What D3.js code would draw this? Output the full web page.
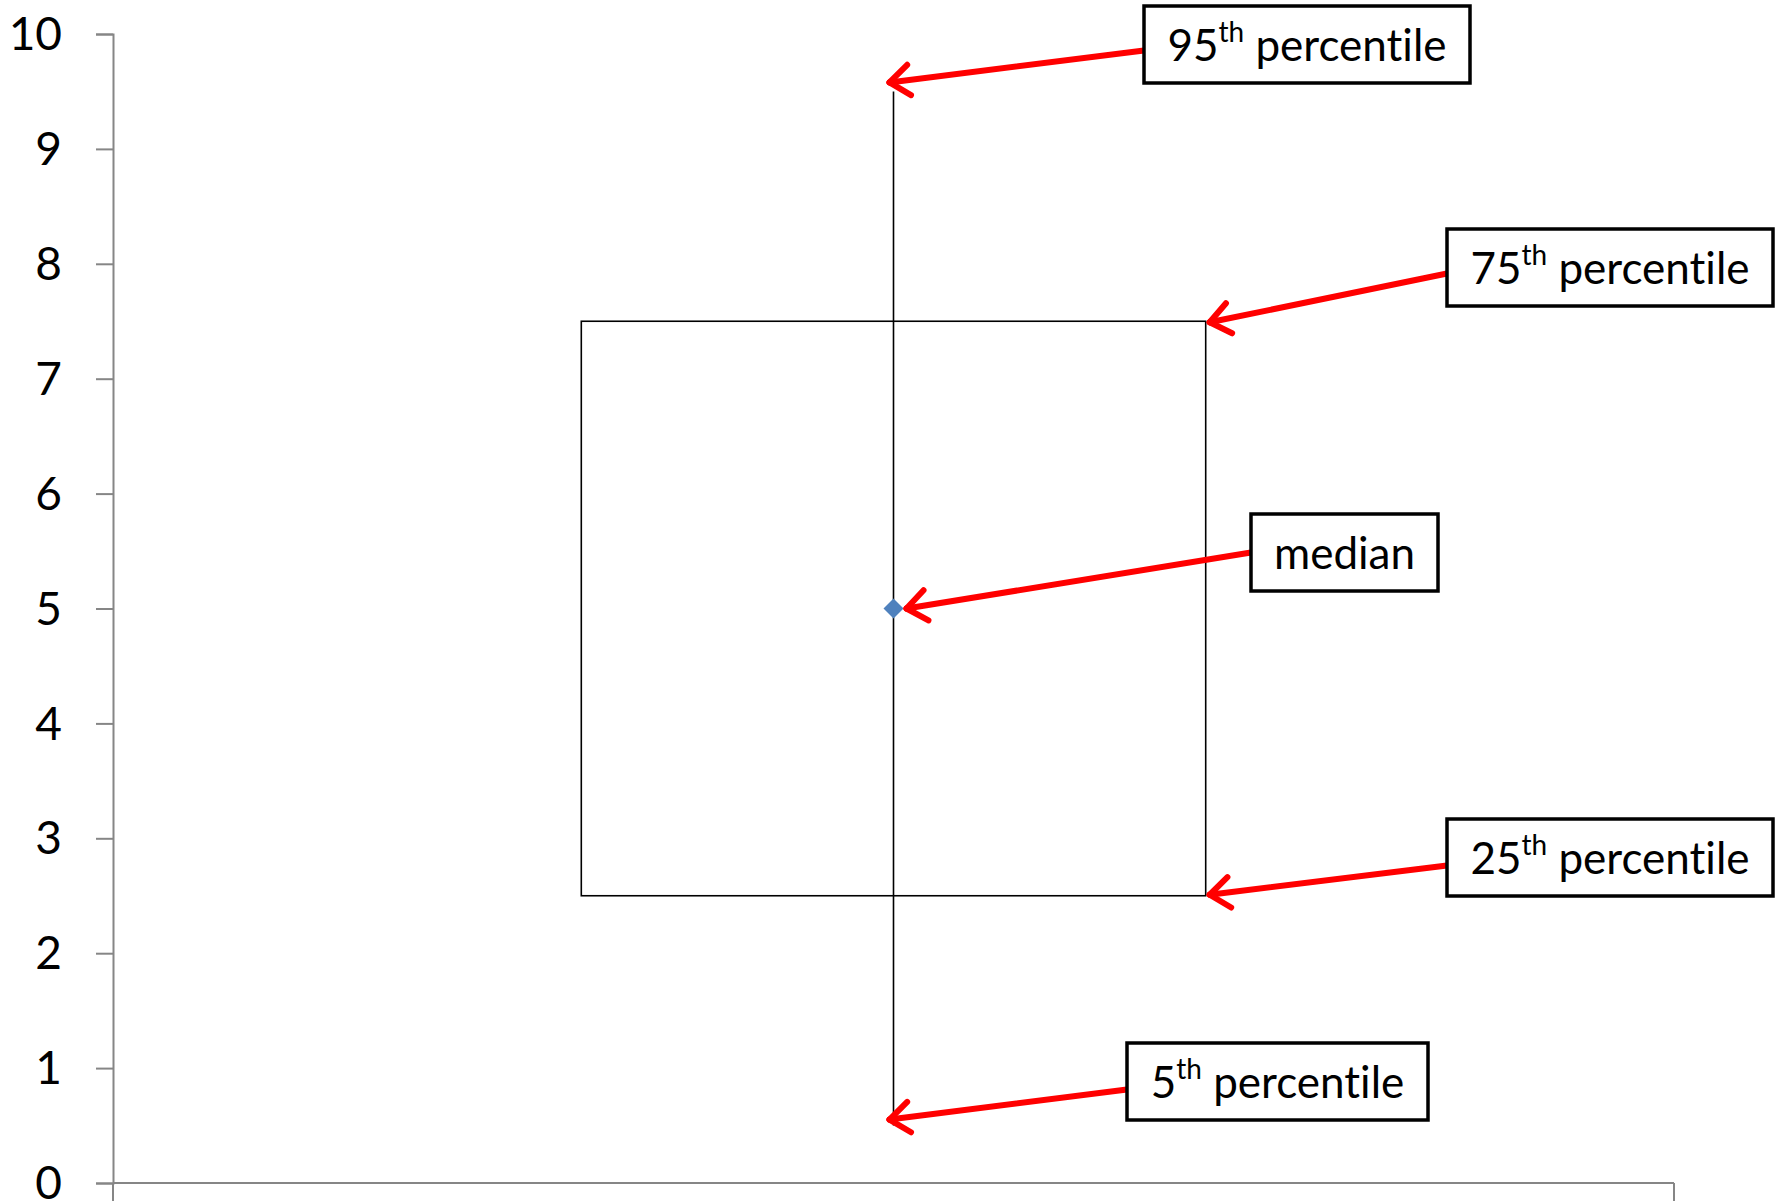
<!DOCTYPE html>
<html>
<head>
<meta charset="utf-8">
<script src="https://cdn.jsdelivr.net/npm/d3@7"></script>
<style>
  html, body { margin: 0; padding: 0; background: #fff; }
  svg { display: block; }
  text { font-family: Lato, "Open Sans", sans-serif; font-variant-ligatures: none; font-feature-settings: "liga" 0, "clig" 0; }
</style>
</head>
<body>
<svg id="chart" width="1783" height="1201"></svg>
<script>
// ---- data ----
const categories = [""];
const p5 = [0.5];
const p25 = [2.5];
const median = [5];
const p75 = [7.5];
const p95 = [9.5];
const yTicks = [0, 1, 2, 3, 4, 5, 6, 7, 8, 9, 10];
const annotationOrdinals = ["95", "75", "", "25", "5"];
const annotationTexts = ["percentile", "percentile", "median", "percentile", "percentile"];

// ---- layout ----
const plot = { left: 113, right: 1674, top: 34, bottom: 1183 };
const svg = d3.select("#chart");

const x = d3.scaleBand().domain(categories).range([plot.left, plot.right]).padding(0);
const y = d3.scaleLinear().domain([0, 10]).range([plot.bottom, plot.top]);

const axisColor = "#868686";

// y axis
const yAxis = svg.append("g")
  .attr("transform", `translate(${plot.left},0)`)
  .call(d3.axisLeft(y).tickValues(yTicks).tickSize(17).tickPadding(34).tickFormat(d3.format("d")));
yAxis.select(".domain").attr("stroke", axisColor).attr("stroke-width", 2);
yAxis.selectAll(".tick line").attr("stroke", axisColor).attr("stroke-width", 2);
yAxis.selectAll(".tick text").attr("fill", "#000").style("font-size", "46px")
  .style("font-family", "Lato, 'Open Sans', sans-serif").attr("dy", "0.34em");

// x axis (category boundaries as ticks)
const xg = svg.append("g");
xg.append("line")
  .attr("x1", plot.left).attr("x2", plot.right)
  .attr("y1", y(0)).attr("y2", y(0))
  .attr("stroke", axisColor).attr("stroke-width", 2);
const bounds = [x.range()[0], x.range()[1]];
xg.selectAll("line.b").data(bounds).join("line").attr("class", "b")
  .attr("x1", d => d).attr("x2", d => d)
  .attr("y1", y(0)).attr("y2", y(0) + 18)
  .attr("stroke", axisColor).attr("stroke-width", 2);

// box plot
const cx = d => x(d) + x.bandwidth() / 2;
const boxW = x.bandwidth() * 0.4;
const g = svg.append("g");
categories.forEach((c, i) => {
  g.append("line")
    .attr("x1", cx(c)).attr("x2", cx(c))
    .attr("y1", y(p95[i])).attr("y2", y(p5[i]))
    .attr("stroke", "#000").attr("stroke-width", 1.6);
  g.append("rect")
    .attr("x", cx(c) - boxW / 2).attr("width", boxW)
    .attr("y", y(p75[i])).attr("height", y(p25[i]) - y(p75[i]))
    .attr("fill", "none").attr("stroke", "#000").attr("stroke-width", 1.6);
  const m = 10;
  g.append("path")
    .attr("d", `M${cx(c)},${y(median[i]) - m} L${cx(c) + m},${y(median[i])} L${cx(c)},${y(median[i]) + m} L${cx(c) - m},${y(median[i])} Z`)
    .attr("fill", "#4f81bd");
});

// ---- annotations ----
const c0 = categories[0];
const annBoxes = [
  { x: 1144, y: 6,    w: 326, h: 77, dy: 6 },
  { x: 1447, y: 229,  w: 326, h: 77, dy: 6 },
  { x: 1251, y: 514,  w: 187, h: 77, dy: 0 },
  { x: 1447, y: 819,  w: 326, h: 77, dy: 8 },
  { x: 1127, y: 1043, w: 301, h: 77, dy: 8 }
];
const tips = [
  { x: cx(c0) - 4, y: y(p95[0]) - 9 },
  { x: cx(c0) + boxW / 2 + 4, y: y(p75[0]) + 1 },
  { x: cx(c0) + 13, y: y(median[0]) },
  { x: cx(c0) + boxW / 2 + 4, y: y(p25[0]) - 1 },
  { x: cx(c0) - 4, y: y(p5[0]) - 6 }
];

const ag = svg.append("g");
annBoxes.forEach((b, i) => {
  const sx = b.x;
  const startY = b.y + b.h / 2 + b.dy;
  const t = tips[i];
  ag.append("line")
    .attr("x1", sx).attr("y1", startY).attr("x2", t.x).attr("y2", t.y)
    .attr("stroke", "#ff0000").attr("stroke-width", 6).attr("stroke-linecap", "round");
  const ang = Math.atan2(startY - t.y, sx - t.x);
  const L = 25, spread = 0.66;
  [ang - spread, ang + spread].forEach(a => {
    ag.append("line")
      .attr("x1", t.x).attr("y1", t.y)
      .attr("x2", t.x + L * Math.cos(a)).attr("y2", t.y + L * Math.sin(a))
      .attr("stroke", "#ff0000").attr("stroke-width", 6).attr("stroke-linecap", "round");
  });
  ag.append("rect")
    .attr("x", b.x).attr("y", b.y).attr("width", b.w).attr("height", b.h)
    .attr("fill", "#fff").attr("stroke", "#000").attr("stroke-width", 3.5);
  const txt = ag.append("text")
    .attr("x", b.x + b.w / 2).attr("y", b.y + b.h / 2 + 16)
    .attr("text-anchor", "middle")
    .style("font-size", "44px").attr("fill", "#000");
  if (annotationOrdinals[i]) {
    txt.append("tspan").text(annotationOrdinals[i]);
    txt.append("tspan").text("th").style("font-size", "28px").attr("dy", -19);
    txt.append("tspan").text(" " + annotationTexts[i]).attr("dy", 19);
  } else {
    txt.text(annotationTexts[i]);
  }
});
</script>
</body>
</html>
